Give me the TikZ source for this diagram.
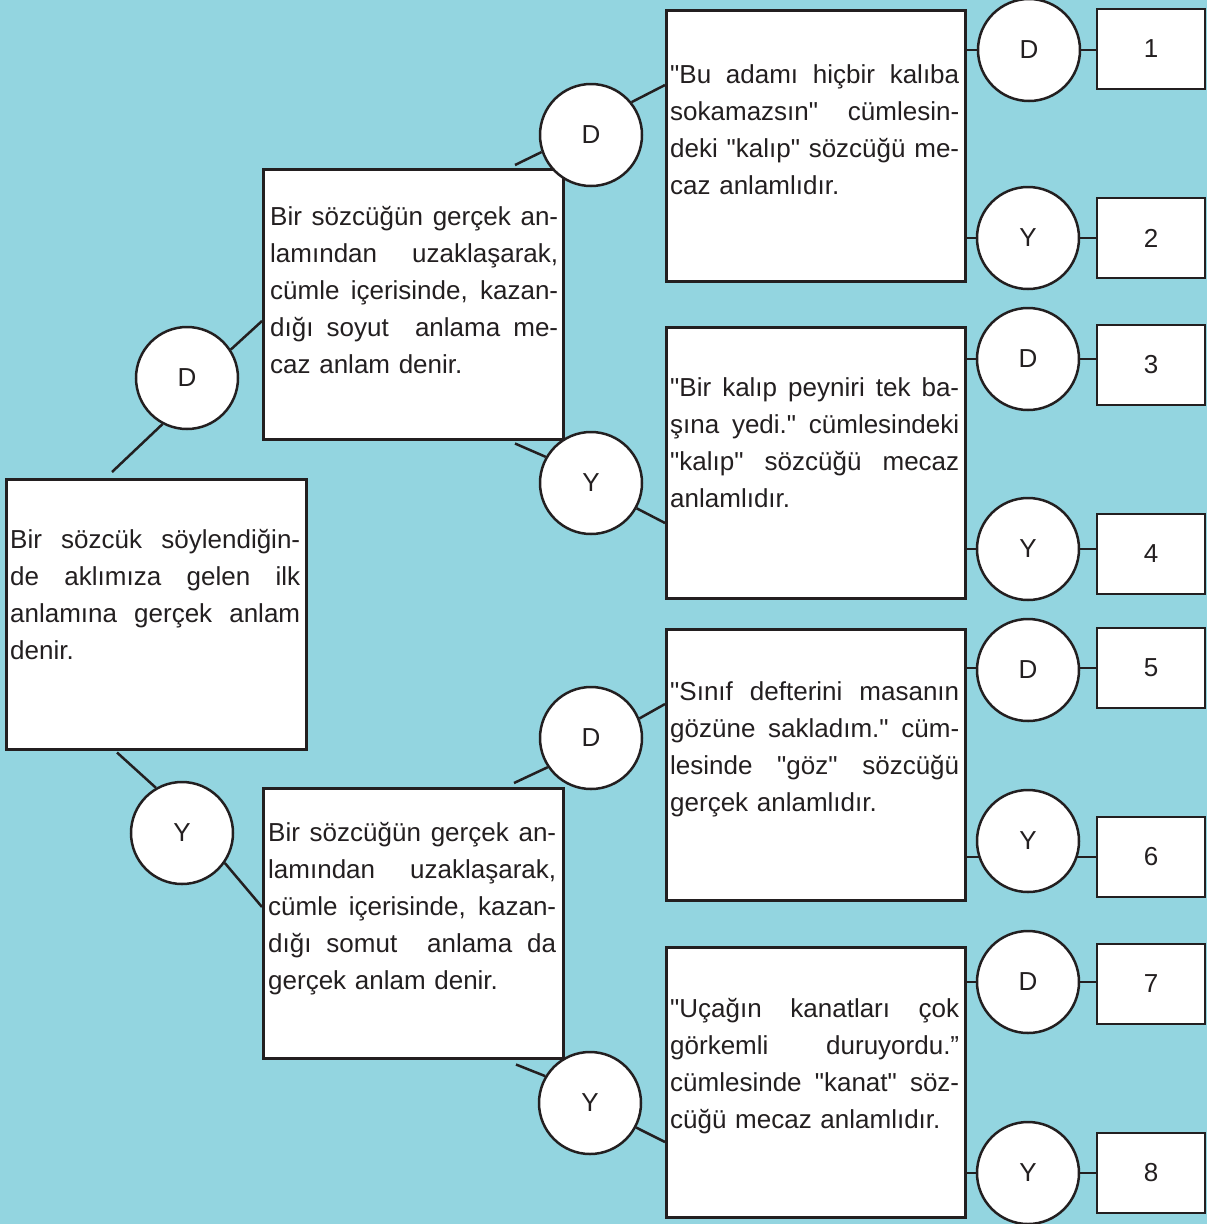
\documentclass[tikz,border=0pt]{standalone}
\usepackage{fontspec}
\setmainfont{Liberation Sans}[Ligatures=TeXOff]
\usetikzlibrary{calc,backgrounds}
\definecolor{bgc}{RGB}{147,213,224}
\definecolor{ink}{RGB}{35,31,32}
\newcommand{\fs}{\fontsize{26}{37}\selectfont}
\newcommand{\jl}[1]{\noindent\hbox to\hsize{\spaceskip=0pt\xspaceskip=0pt #1}}
\begin{document}
\begin{tikzpicture}[x=1pt,y=-1pt,
  box/.style={draw=ink, fill=white, line width=2.5pt, inner sep=0pt, anchor=north west},
  numbox/.style={draw=ink, fill=white, line width=2.5pt, inner sep=0pt, minimum width=108pt, minimum height=80pt, text=ink, font=\fs},
  circ/.style={circle, draw=ink, fill=white, line width=2.5pt, minimum size=102pt, inner sep=0pt, text=ink, font=\fs},
  conn/.style={draw=ink, line width=2.5pt},
  txt/.style={anchor=north west, inner sep=0pt, align=left, text=ink, font=\fs}]
\useasboundingbox (0,0) rectangle (1207,1224);
% boxes
\node[box, minimum width=300pt, minimum height=270pt] (A) at (5,478) {};
\node[box, minimum width=300pt, minimum height=270pt] (B) at (262,168) {};
\node[box, minimum width=300pt, minimum height=270pt] (C) at (262,787) {};
\node[box, minimum width=299pt, minimum height=271pt] (E1) at (665,9) {};
\node[box, minimum width=299pt, minimum height=271pt] (E2) at (665,326) {};
\node[box, minimum width=299pt, minimum height=271pt] (E3) at (665,628) {};
\node[box, minimum width=299pt, minimum height=270pt] (E4) at (665,946) {};
% texts
\node[txt, text width=290pt] (At) at (10,522.1) {\jl{\strut Bir sözcük söylendiğin-}\\\jl{de aklımıza gelen ilk}\\\jl{anlamına gerçek anlam}\\\noindent denir.};
\node[txt, text width=288pt] (Bt) at (270,199.1) {\jl{\strut Bir sözcüğün gerçek an-}\\\jl{lamından uzaklaşarak,}\\\jl{cümle içerisinde, kazan-}\\\jl{dığı soyut\ \ anlama me-}\\\noindent caz anlam denir.};
\node[txt, text width=288pt] (Ct) at (268,815.1) {\jl{\strut Bir sözcüğün gerçek an-}\\\jl{lamından uzaklaşarak,}\\\jl{cümle içerisinde, kazan-}\\\jl{dığı somut\ \ anlama da}\\\noindent gerçek anlam denir.};
\node[txt, text width=289pt] (E1t) at (670,57.1) {\jl{\strut "Bu adamı hiçbir kalıba}\\\jl{sokamazsın" cümlesin-}\\\jl{deki "kalıp" sözcüğü me-}\\\noindent caz anlamlıdır.};
\node[txt, text width=289pt] (E2t) at (670,370.1) {\jl{\strut "Bir kalıp peyniri tek ba-}\\\jl{şına yedi." cümlesindeki}\\\jl{"kalıp" sözcüğü mecaz}\\\noindent anlamlıdır.};
\node[txt, text width=289pt] (E3t) at (670,674.1) {\jl{\strut "Sınıf defterini masanın}\\\jl{gözüne sakladım." cüm-}\\\jl{lesinde "göz" sözcüğü}\\\noindent gerçek anlamlıdır.};
\node[txt, text width=289pt] (E4t) at (670,991.1) {\jl{\strut "Uçağın kanatları çok}\\\jl{görkemli duruyordu.”}\\\jl{cümlesinde "kanat" söz-}\\\noindent cüğü mecaz anlamlıdır.};
% circles
\node[circ] (c1) at (187,378) {D};
\node[circ] (c2) at (182,833) {Y};
\node[circ] (dd) at (591,135) {D};
\node[circ] (dy) at (591,483) {Y};
\node[circ] (yd) at (591,738) {D};
\node[circ] (yy) at (590,1103) {Y};
\node[circ] (r1) at (1029,50) {D};
\node[circ] (r2) at (1028,238) {Y};
\node[circ] (r3) at (1028,359) {D};
\node[circ] (r4) at (1028,549) {Y};
\node[circ] (r5) at (1028,670) {D};
\node[circ] (r6) at (1028,841) {Y};
\node[circ] (r7) at (1028,982) {D};
\node[circ] (r8) at (1028,1173) {Y};
% number boxes
\node[numbox] (n1) at (1151,49) {1};
\node[numbox] (n2) at (1151,238) {2};
\node[numbox] (n3) at (1151,365) {3};
\node[numbox] (n4) at (1151,554) {4};
\node[numbox] (n5) at (1151,668) {5};
\node[numbox] (n6) at (1151,857) {6};
\node[numbox] (n7) at (1151,984) {7};
\node[numbox] (n8) at (1151,1173) {8};
\begin{scope}[on background layer]
\fill[bgc] (0,0) rectangle (1207,1224);
\draw[conn] ($(A.north west)+(107,-6)$) -- (c1.242);
\draw[conn] (c1.33) -- ($(B.north west)+(0,153)$);
\draw[conn] ($(B.north west)+(253,-3)$) -- (dd.199);
\draw[conn] (dd.39) -- ($(E1.north west)+(0,76)$);
\draw[conn] ($(B.south west)+(253,3)$) -- (dy.150);
\draw[conn] (dy.331) -- ($(E2.north west)+(0,197)$);
\draw[conn] ($(A.south west)+(112,2)$) -- (c2.120);
\draw[conn] (c2.325) -- ($(C.north west)+(0,120)$);
\draw[conn] ($(C.north west)+(252,-4)$) -- (yd.214);
\draw[conn] (yd.22) -- ($(E3.north west)+(0,76)$);
\draw[conn] ($(C.south west)+(254,5)$) -- (yy.149);
\draw[conn] (yy.332) -- ($(E4.north west)+(0,196)$);
\draw[conn] (E1.east |- r1) -- (n1.west |- r1);
\draw[conn] (E1.east |- r2) -- (n2.west |- r2);
\draw[conn] (E2.east |- r3) -- (n3.west |- r3);
\draw[conn] (E2.east |- r4) -- (n4.west |- r4);
\draw[conn] (E3.east |- n5.west) -- (n5.west);
\draw[conn] (E3.east |- n6.west) -- (n6.west);
\draw[conn] (E4.east |- r7) -- (n7.west |- r7);
\draw[conn] (E4.east |- r8) -- (n8.west |- r8);
\end{scope}
\end{tikzpicture}
\end{document}
